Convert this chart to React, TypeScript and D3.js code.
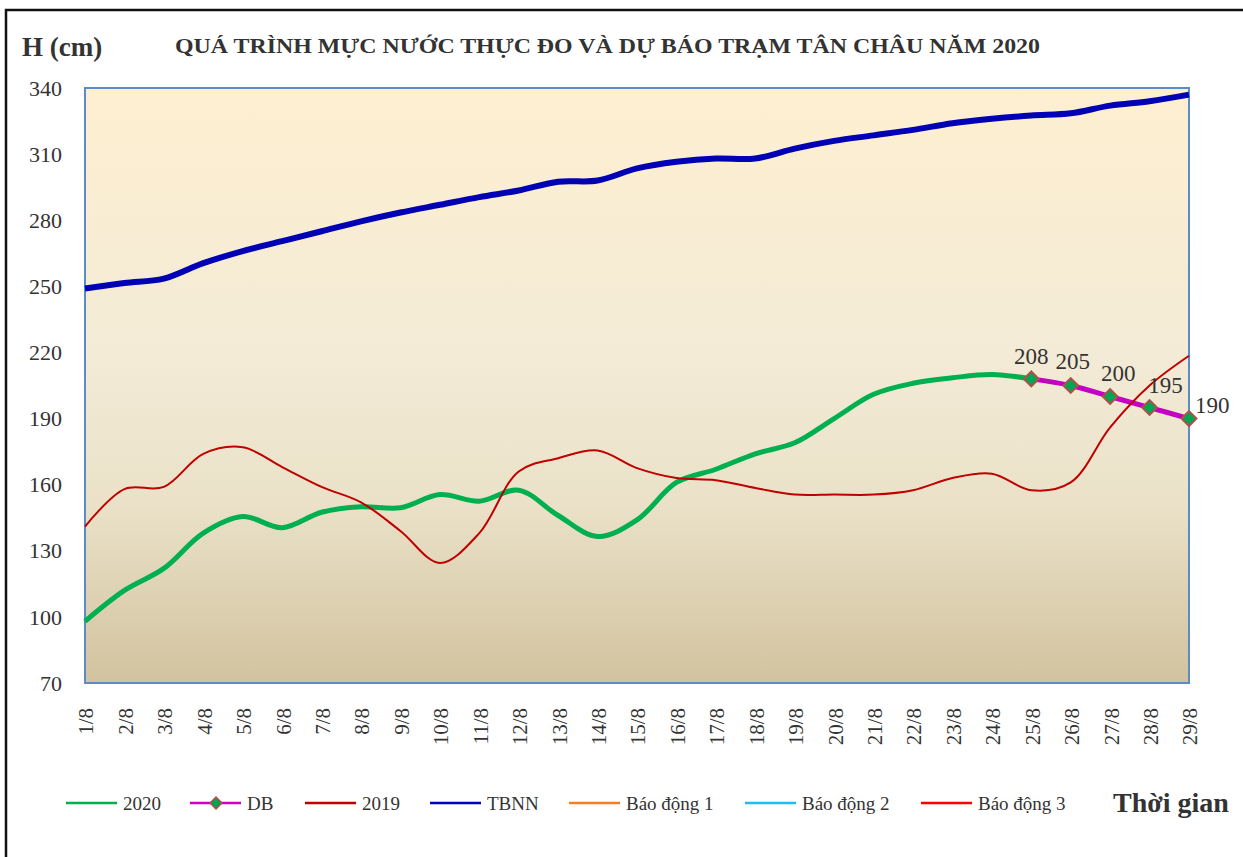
import React, { useEffect, useRef } from 'react';
import * as d3 from 'd3';

// ngày 1/8 .. 29/8
const days = d3.range(1, 30).map(d => `${d}/8`);

// mực nước 2020 thực đo (1/8 -> 25/8)
const obs2020 = [98, 112, 122, 138, 145.5, 140.5, 147.5, 150, 149.5, 155.5, 152.5, 157.5, 146, 136.5, 144, 161, 167, 174, 179, 190, 201, 206, 208.5, 210, 208];
// dự báo 25/8 -> 29/8
const dbDays = ['25/8', '26/8', '27/8', '28/8', '29/8'];
const dbValues = [208, 205, 200, 195, 190];
const obs2019 = [141, 158, 159, 174, 177, 168, 159, 152, 139, 124.5, 138, 166, 172, 175.5, 167.5, 163, 162, 158.5, 155.5, 155.5, 155.5, 157.5, 163, 165, 157.5, 161, 186, 205, 218.5];
const tbnn = [249, 251.5, 253.5, 260.5, 266, 270.5, 275, 279.5, 283.5, 287, 290.5, 293.5, 297.5, 298, 303.5, 306.5, 308, 308, 312.5, 316, 318.5, 321, 324, 326, 327.5, 328.5, 332, 334, 337];
const yTicks = [70, 100, 130, 160, 190, 220, 250, 280, 310, 340];

const legendItems = [
    { name: '2020', color: '#00B050', marker: false },
    { name: 'DB', color: '#CC00CC', marker: true },
    { name: '2019', color: '#C00000', marker: false },
    { name: 'TBNN', color: '#0000B4', marker: false },
    { name: 'Báo động 1', color: '#F57F20', marker: false },
    { name: 'Báo động 2', color: '#1EBCF5', marker: false },
    { name: 'Báo động 3', color: '#FF0000', marker: false },
];
const legendX = [66, 190, 305, 430, 569, 745, 921];

// chỉnh vị trí nhãn DB (như Excel đã kéo tay)
const dbLabelShift = [[0, -15], [2, -17], [8, -16], [16, -15], [6, 0]];

const FONT = "'Times New Roman', 'Liberation Serif', serif";

export default function App() {
    const svgRef = useRef<SVGSVGElement>(null);
    const width = 1243;
    const height = 857;

    useEffect(() => {
        const svg = d3.select(svgRef.current);
        svg.selectAll('*').remove();

        const plot = { left: 85, right: 1189, top: 88, bottom: 683 };

        const x = d3.scalePoint<string>().domain(days).range([plot.left, plot.right]);
        const y = d3.scaleLinear().domain([70, 340]).range([plot.bottom, plot.top]);

        // outer frame
        svg.append('rect')
            .attr('x', 6).attr('y', 10)
            .attr('width', 1400).attr('height', 1000)
            .attr('fill', 'white')
            .attr('stroke', '#111').attr('stroke-width', 2.5);

        const defs = svg.append('defs');
        const grad = defs.append('linearGradient')
            .attr('id', 'bg-grad')
            .attr('x1', '0%').attr('y1', '0%').attr('x2', '0%').attr('y2', '100%');
        [[0, '#FEEFD1'], [0.45, '#F3EBD6'], [0.7, '#EAE1C8'], [1, '#D2C39F']].forEach(([o, c]) => {
            grad.append('stop').attr('offset', o as number).attr('stop-color', c as string);
        });

        svg.append('rect')
            .attr('x', plot.left).attr('y', plot.top)
            .attr('width', plot.right - plot.left).attr('height', plot.bottom - plot.top)
            .attr('fill', 'url(#bg-grad)')
            .attr('stroke', '#5B8CC8').attr('stroke-width', 2);

        // title + axis titles
        svg.append('text')
            .attr('x', 22).attr('y', 56)
            .attr('font-family', FONT).attr('font-weight', 'bold').attr('font-size', 27)
            .attr('fill', '#333')
            .text('H (cm)');

        svg.append('text')
            .attr('x', 175).attr('y', 53)
            .attr('font-family', FONT).attr('font-weight', 'bold').attr('font-size', 20)
            .attr('fill', '#333')
            .attr('textLength', 865).attr('lengthAdjust', 'spacingAndGlyphs')
            .text('QUÁ TRÌNH MỰC NƯỚC THỰC ĐO VÀ DỰ BÁO TRẠM TÂN CHÂU NĂM 2020');

        svg.append('text')
            .attr('x', 1113).attr('y', 812)
            .attr('font-family', FONT).attr('font-weight', 'bold').attr('font-size', 28)
            .attr('fill', '#333')
            .text('Thời gian');

        // y labels
        svg.selectAll('.ylab')
            .data(yTicks)
            .enter().append('text')
            .attr('class', 'ylab')
            .attr('x', 62)
            .attr('y', d => y(d))
            .attr('dy', '0.35em')
            .attr('text-anchor', 'end')
            .attr('font-family', FONT).attr('font-size', 22)
            .attr('fill', '#333')
            .text(d => d);

        // x labels rotated
        svg.selectAll('.xlab')
            .data(days)
            .enter().append('text')
            .attr('class', 'xlab')
            .attr('transform', d => `translate(${x(d)! + 1},708) rotate(-90)`)
            .attr('text-anchor', 'end')
            .attr('dy', '0.35em')
            .attr('font-family', FONT).attr('font-size', 21)
            .attr('fill', '#333')
            .text(d => d);

        const line = d3.line<[string, number]>()
            .x(d => x(d[0])!)
            .y(d => y(d[1]))
            .curve(d3.curveCatmullRom.alpha(0.5));

        const g = svg.append('g');

        g.append('path')
            .datum(days.map((d, i) => [d, tbnn[i]] as [string, number]))
            .attr('d', line)
            .attr('fill', 'none').attr('stroke', '#0000B4').attr('stroke-width', 6);

        g.append('path')
            .datum(obs2020.map((v, i) => [days[i], v] as [string, number]))
            .attr('d', line)
            .attr('fill', 'none').attr('stroke', '#00B050').attr('stroke-width', 5);

        g.append('path')
            .datum(dbDays.map((d, i) => [d, dbValues[i]] as [string, number]))
            .attr('d', line)
            .attr('fill', 'none').attr('stroke', '#C400C4').attr('stroke-width', 5);

        g.append('path')
            .datum(days.map((d, i) => [d, obs2019[i]] as [string, number]))
            .attr('d', line)
            .attr('fill', 'none').attr('stroke', '#C00000').attr('stroke-width', 2);

        g.selectAll('.db-pt')
            .data(dbValues)
            .enter().append('path')
            .attr('class', 'db-pt')
            .attr('transform', (d, i) => `translate(${x(dbDays[i])},${y(d)}) rotate(45)`)
            .attr('d', d3.symbol().type(d3.symbolSquare).size(110))
            .attr('fill', '#00A651')
            .attr('stroke', '#B0504A').attr('stroke-width', 2);

        g.selectAll('.db-lab')
            .data(dbValues)
            .enter().append('text')
            .attr('class', 'db-lab')
            .attr('x', (d, i) => x(dbDays[i])! + dbLabelShift[i][0])
            .attr('y', (d, i) => y(d) + dbLabelShift[i][1])
            .attr('text-anchor', (d, i) => i === dbValues.length - 1 ? 'start' : 'middle')
            .attr('dy', (d, i) => i === dbValues.length - 1 ? '-0.25em' : '0')
            .attr('font-family', FONT).attr('font-size', 23)
            .attr('fill', '#333')
            .text(d => d);

        // legend
        const lg = svg.append('g');
        legendItems.forEach((item, i) => {
            const lx = legendX[i];
            lg.append('line')
                .attr('x1', lx).attr('x2', lx + 51)
                .attr('y1', 803).attr('y2', 803)
                .attr('stroke', item.color).attr('stroke-width', 2.5);
            if (item.marker) {
                lg.append('path')
                    .attr('transform', `translate(${lx + 26},803) rotate(45)`)
                    .attr('d', d3.symbol().type(d3.symbolSquare).size(70))
                    .attr('fill', '#00A651')
                    .attr('stroke', '#B0504A').attr('stroke-width', 1.5);
            }
            lg.append('text')
                .attr('x', lx + 57).attr('y', 810)
                .attr('font-family', FONT).attr('font-size', 19)
                .attr('fill', '#333')
                .text(item.name);
        });
    }, []);

    return (
        <svg ref={svgRef} width={width} height={height}
            style={{ position: 'absolute', left: 0, top: 0, background: 'white' }}></svg>
    );
}
